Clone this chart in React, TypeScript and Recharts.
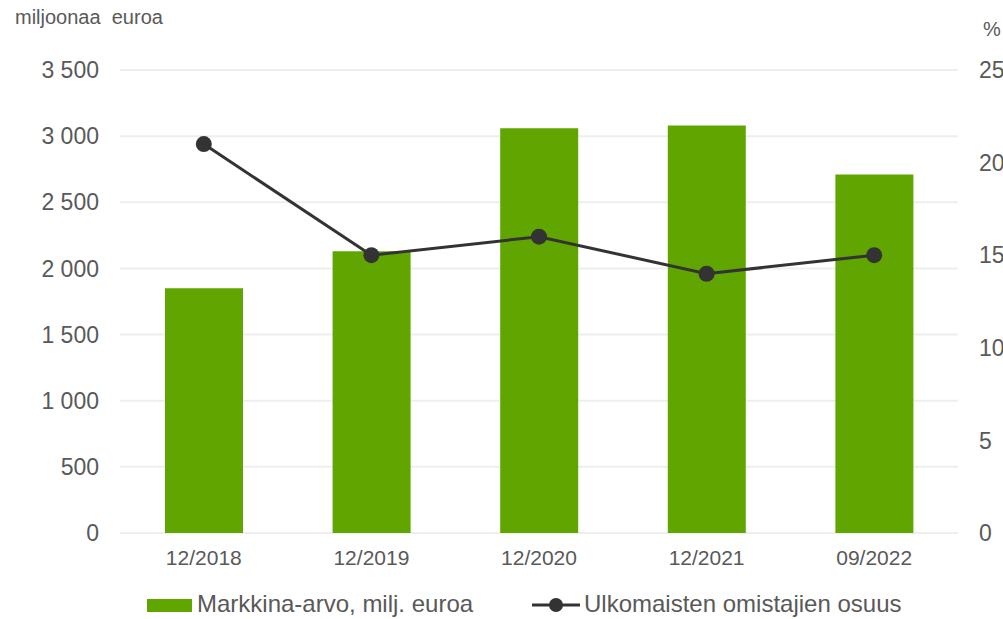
import { Bar, CartesianGrid, ComposedChart, Legend, Line, XAxis, YAxis } from 'recharts'

const categories = ['12/2018', '12/2019', '12/2020', '12/2021', '09/2022']
const marketValue = [1850, 2130, 3060, 3080, 2710]
const foreignShare = [21, 15, 16, 14, 15]
const leftTicks = [0, 500, 1000, 1500, 2000, 2500, 3000, 3500]
const rightTicks = [0, 5, 10, 15, 20, 25]
const boundaryTicks = [0, 1, 2, 3, 4, 5]

const data = categories.map((c, i) => ({ cat: c, value: marketValue[i], share: foreignShare[i] }))

const font = '"Liberation Sans", Arial, sans-serif'
const textColor = '#595959'
const green = '#61a600'
const dark = '#333333'

// thousands with a space, like 3 500
const fmt = (v: number) => String(v).replace(/\B(?=(\d{3})+(?!\d))/g, ' ')

function LegendContent() {
  return (
    <div style={{ position: 'relative', height: 46, fontFamily: font, fontSize: 24, color: textColor }}>
      <div style={{ position: 'absolute', left: 147, top: 26, width: 45, height: 13, background: green }} />
      <div style={{ position: 'absolute', left: 197, top: 17, lineHeight: '28px', whiteSpace: 'nowrap' }}>Markkina-arvo, milj. euroa</div>
      <svg style={{ position: 'absolute', left: 530, top: 22 }} width={52} height={20}>
        <line x1={2} y1={10} x2={50} y2={10} stroke={dark} strokeWidth={3} />
        <circle cx={26} cy={10} r={7} fill={dark} />
      </svg>
      <div style={{ position: 'absolute', left: 584, top: 17, lineHeight: '28px', whiteSpace: 'nowrap' }}>Ulkomaisten omistajien osuus</div>
    </div>
  )
}

export default function App() {
  return (
    <div style={{ position: 'absolute', left: 0, top: 0, width: 1003, height: 619, background: '#fff', overflow: 'hidden' }}>
      <div style={{ position: 'absolute', left: 15, top: 6, fontFamily: font, fontSize: 20, color: textColor, whiteSpace: 'pre' }}>
        miljoonaa  euroa
      </div>
      <div style={{ position: 'absolute', left: 983, top: 18, fontFamily: font, fontSize: 20, color: textColor }}>%</div>
      <ComposedChart width={1003} height={619} data={data} margin={{ top: 70, right: 0, left: 0, bottom: 0 }} barCategoryGap="27%">
        <CartesianGrid vertical={false} stroke="#eeeeee" strokeWidth={2} />
        <XAxis
          xAxisId="b"
          type="number"
          domain={[0, 5]}
          ticks={boundaryTicks}
          tick={{ fontSize: 0 }}
          tickFormatter={() => ''}
          height={0}
          tickSize={7}
          axisLine={{ stroke: '#d9d9d9', strokeWidth: 2 }}
          tickLine={{ stroke: '#d9d9d9', strokeWidth: 2 }}
          allowDataOverflow
        />
        <XAxis
          dataKey="cat"
          height={40}
          axisLine={false}
          tickLine={false}
          tickSize={0}
          tickMargin={17}
          tick={{ fill: textColor, fontSize: 21, fontFamily: font }}
        />
        <YAxis
          width={120}
          domain={[0, 3500]}
          ticks={leftTicks}
          axisLine={false}
          tickLine={false}
          tickSize={0}
          tickMargin={21}
          tickFormatter={fmt}
          tick={{ fill: textColor, fontSize: 23, fontFamily: font }}
        />
        <YAxis
          yAxisId="right"
          orientation="right"
          width={45}
          domain={[0, 25]}
          ticks={rightTicks}
          axisLine={false}
          tickLine={false}
          tickSize={0}
          tickMargin={21}
          tick={{ fill: textColor, fontSize: 23, fontFamily: font, textAnchor: 'start' }}
        />
        <Legend verticalAlign="bottom" wrapperStyle={{ left: 0, bottom: 0, width: 1003 }} content={<LegendContent />} />
        <Bar dataKey="value" name="Markkina-arvo, milj. euroa" fill={green} barSize={78} isAnimationActive={false} />
        <Line
          yAxisId="right"
          dataKey="share"
          name="Ulkomaisten omistajien osuus"
          stroke={dark}
          strokeWidth={3}
          dot={{ r: 8, fill: dark, stroke: 'none' }}
          activeDot={false}
          isAnimationActive={false}
        />
      </ComposedChart>
    </div>
  )
}
